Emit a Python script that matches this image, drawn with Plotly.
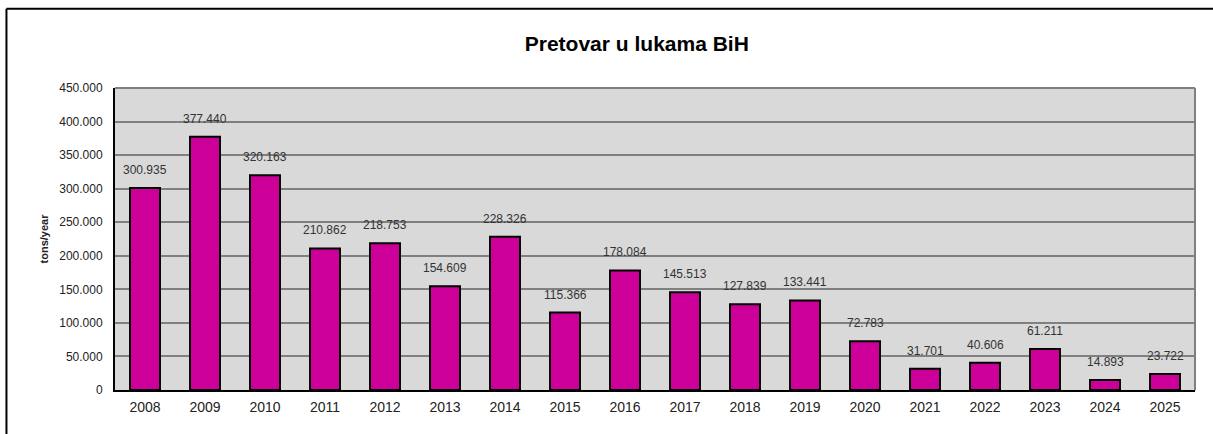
import plotly.graph_objects as go

# podaci
godine = ['2008', '2009', '2010', '2011', '2012', '2013', '2014', '2015', '2016',
          '2017', '2018', '2019', '2020', '2021', '2022', '2023', '2024', '2025']
pretovar = [300935, 377440, 320163, 210862, 218753, 154609, 228326, 115366, 178084,
            145513, 127839, 133441, 72783, 31701, 40606, 61211, 14893, 23722]
y_tickovi = [0, 50000, 100000, 150000, 200000, 250000, 300000, 350000, 400000, 450000]

fig = go.Figure()
fig.add_trace(go.Bar(
    x=godine, y=pretovar,
    marker=dict(color='#CC0099', line=dict(color='black', width=2)),
    hoverinfo='x+y',
))

# oznake vrijednosti iznad stupaca (x = indeks kategorije)
for i, v in enumerate(pretovar):
    fig.add_annotation(x=i, y=v, text=f'{v:,}'.replace(',', '.'), showarrow=False,
                       yshift=18, font=dict(family='Arial, Liberation Sans', size=12, color='#333333'))

fig.update_layout(
    width=1213, height=434,
    margin=dict(l=115, r=18, t=88, b=44),
    paper_bgcolor='white', plot_bgcolor='#D9D9D9',
    separators=',.',
    bargap=0.5,
    showlegend=False,
    title=dict(text='<b>Pretovar u lukama BiH</b>', xref='container', x=0.525, xanchor='center',
               y=0.9, yanchor='middle',
               font=dict(family='Arial, Liberation Sans', size=21, color='black')),
    font=dict(family='Arial, Liberation Sans', color='#222222'),
)
fig.update_xaxes(type='category', range=[-0.5, len(godine) - 0.5],
                 showgrid=False, showline=True, linecolor='black', linewidth=2,
                 ticks='', ticklabelstandoff=3, tickfont=dict(size=14, color='#222222'))
fig.update_yaxes(range=[0, 450000], tickvals=y_tickovi, tickformat=',.0f',
                 showgrid=True, gridcolor='#808080', gridwidth=2,
                 showline=True, linecolor='black', linewidth=2, zeroline=False,
                 ticks='', ticklabelstandoff=8, tickfont=dict(size=12, color='#222222'),
                 title=dict(text='<b>tons/year</b>', font=dict(size=11, color='#222222'), standoff=8))

# gornji i desni rub područja crtanja
fig.add_shape(type='line', xref='paper', yref='paper', x0=0, x1=1, y0=1, y1=1,
              line=dict(color='#808080', width=2))
fig.add_shape(type='line', xref='paper', yref='paper', x0=1, x1=1, y0=0, y1=1,
              line=dict(color='#808080', width=2))

# okvir slike
fig.add_shape(type='line', xref='paper', yref='paper', x0=-0.1005, x1=1.02, y0=1.2625, y1=1.2625,
              line=dict(color='black', width=2))
fig.add_shape(type='line', xref='paper', yref='paper', x0=-0.1005, x1=-0.1005, y0=-0.2, y1=1.2625,
              line=dict(color='black', width=2))

fig.write_html('out.html', config={'displayModeBar': False},
               post_script="document.body.style.margin='0';")
